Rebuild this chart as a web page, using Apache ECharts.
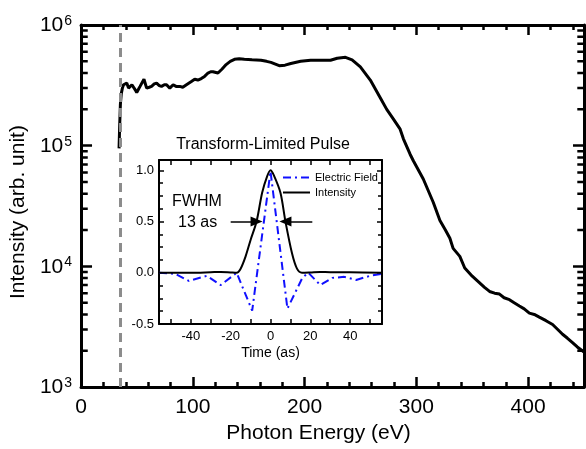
<!DOCTYPE html>
<html>
<head>
<meta charset="utf-8">
<script src="https://cdn.jsdelivr.net/npm/echarts@6/dist/echarts.min.js"></script>
<style>
  html, body { margin: 0; padding: 0; background: #fff; }
  #chart { width: 586px; height: 449px; }
</style>
</head>
<body>
<div id="chart"></div>
<script>
// main spectrum (photon energy in eV, intensity in arb. unit)
const energy = [34, 34.6, 35.2, 36, 37, 38, 39.5, 40.9, 42.5, 43.9, 45.5, 46.9, 48.5, 49.8, 51.5, 52.8, 54.5, 56.3, 58.7,
  61, 63.1, 65.5, 67.6, 70, 72, 74.5, 76.5, 79.4, 82.4, 85, 88.3, 91, 94.3, 98.7, 101.7, 104.5, 107.6, 110.5, 113.6, 116,
  118, 122.5, 126, 129.8, 133.5, 137.3, 141.5, 146.1, 153, 161, 166, 169.9, 177.3, 182.5, 187.7, 196.5, 205.4, 214.3,
  223.2, 229.2, 236.6, 242.5, 249.9, 258.8, 267.7, 273.5, 279.5, 285.5, 288.4, 294.4, 297.3, 306.2, 315.1, 321.1, 326,
  330, 332.9, 338.9, 343.3, 350, 356.6, 361, 365.5, 370, 374.4, 378.5, 383.3, 387.5, 392.2, 396.5, 401.1, 405.5, 410,
  416, 421.9, 426.5, 430.8, 435, 439.7, 444, 448.5, 450];
const intensity = [9.5e4, 1.5e5, 2.2e5, 2.7e5, 3.0e5, 3.2e5, 3.1e5, 3.3e5, 3.0e5, 2.9e5, 3.2e5, 3.1e5, 2.9e5, 2.75e5, 2.95e5, 3.1e5,
  3.2e5, 3.55e5, 3.0e5, 3.05e5, 3.1e5, 3.25e5, 3.3e5, 3.15e5, 3.1e5, 3.2e5, 3.2e5, 3.0e5, 3.2e5, 3.1e5, 3.1e5, 3.05e5,
  3.2e5, 3.4e5, 3.55e5, 3.5e5, 3.6e5, 3.75e5, 4.0e5, 4.1e5, 4.1e5, 4.0e5, 4.3e5, 4.7e5, 5.0e5, 5.2e5, 5.25e5, 5.2e5,
  5.15e5, 5.1e5, 5.0e5, 4.9e5, 4.6e5, 4.65e5, 4.8e5, 5.0e5, 5.1e5, 5.1e5, 5.1e5, 5.3e5, 5.4e5, 5.15e5, 4.5e5, 3.5e5,
  2.5e5, 2.0e5, 1.66e5, 1.37e5, 1.14e5, 8.5e4, 7.5e4, 5.3e4, 3.4e4, 2.4e4, 2.0e4, 1.71e4, 1.41e4, 1.21e4, 9.7e3,
  8.3e3, 7.3e3, 6.7e3, 6.2e3, 6.0e3, 5.9e3, 5.5e3, 5.3e3, 5.0e3, 4.7e3, 4.45e3, 4.1e3, 4.0e3, 3.8e3, 3.55e3, 3.3e3,
  3.0e3, 2.74e3, 2.55e3, 2.34e3, 2.15e3, 2.0e3, 1.95e3];
const cutoffEnergy = 35.5;
const minorLogTicks = [2e3, 3e3, 4e3, 5e3, 6e3, 7e3, 8e3, 9e3, 2e4, 3e4, 4e4, 5e4, 6e4, 7e4, 8e4, 9e4,
  2e5, 3e5, 4e5, 5e5, 6e5, 7e5, 8e5, 9e5];

// inset: transform-limited pulse (time in as)
const fieldTime = [-56, -48, -41, -32, -25, -17, -9.2, 0, 8.5, 16, 19, 25, 31, 37, 43, 50, 56];
const fieldValue = [0, -0.01, -0.08, -0.03, -0.12, 0, -0.37, 0.99, -0.35, -0.05, 0, -0.12, -0.05, -0.04, -0.07, -0.03, -0.01];
const pulseTime = [-56, -40, -30, -25, -20, -17, -15, -12.5, -10, -7, -4.2, -1.7, 0, 1.7, 5, 7.5, 10.8, 13.3, 15.8,
  20, 25, 30, 40, 56];
const pulseValue = [0, 0, 0.005, 0.008, 0.003, 0, 0.04, 0.16, 0.32, 0.5, 0.78, 0.94, 1.0, 0.95, 0.78, 0.5, 0.19, 0.04, 0,
  0.003, 0.008, 0.005, 0.005, 0];
const insetTimeLabels = [-40, -20, 0, 20, 40];
const insetTimeTicks = [-50, -40, -30, -20, -10, 0, 10, 20, 30, 40, 50];

const FONT = 'Liberation Sans';
const BLUE = '#1010ff';
const chart = echarts.init(document.getElementById('chart'), null, { renderer: 'canvas' });

const zip = (xs, ys) => xs.map((x, i) => [x, ys[i]]);

const mainX = (pos, labels) => ({
  type: 'value', gridIndex: 0, position: pos, min: 0, max: 450, interval: 100,
  axisLine: { show: true, onZero: false, lineStyle: { color: '#000', width: 3 } },
  axisTick: { show: true, inside: true, length: 10, lineStyle: { color: '#000', width: 2.5 } },
  minorTick: { show: true, splitNumber: 5, length: 5, lineStyle: { color: '#000', width: 2.5 } },
  axisLabel: { show: labels, color: '#000', fontSize: 21, fontFamily: FONT, margin: 10, showMaxLabel: false },
  splitLine: { show: false },
  name: labels ? 'Photon Energy (eV)' : '',
  nameLocation: 'middle', nameGap: 34,
  nameTextStyle: { color: '#000', fontSize: 21, fontFamily: FONT, padding: [0, 28, 0, 0] }
});

const mainY = (pos, labels) => ({
  type: 'log', logBase: 10, gridIndex: 0, position: pos, min: 1000, max: 1000000,
  axisLine: { show: true, onZero: false, lineStyle: { color: '#000', width: 3 } },
  axisTick: { show: true, inside: true, length: 11, lineStyle: { color: '#000', width: 2.5 } },
  axisLabel: {
    show: labels, margin: 9,
    formatter: v => '{b|10}{s|' + Math.round(Math.log10(v)) + '}',
    rich: {
      b: { fontSize: 21, fontFamily: FONT, color: '#000', lineHeight: 22, verticalAlign: 'bottom' },
      s: { fontSize: 14, fontFamily: FONT, color: '#000', lineHeight: 14, verticalAlign: 'top', padding: [0, 0, 0, 1] }
    }
  },
  splitLine: { show: false },
  name: labels ? 'Intensity (arb. unit)' : '',
  nameLocation: 'middle', nameGap: 50,
  nameTextStyle: { color: '#000', fontSize: 21, fontFamily: FONT, padding: [0, 12, 0, 0] }
});

const insetX = (pos, labels) => ({
  type: 'value', gridIndex: 1, position: pos, min: -56, max: 56,
  axisLine: { show: true, onZero: false, lineStyle: { color: '#000', width: 2 } },
  axisTick: { show: true, inside: true, length: 5, customValues: insetTimeTicks, lineStyle: { color: '#000', width: 1.5 } },
  axisLabel: { show: labels, customValues: insetTimeLabels, color: '#000', fontSize: 13, fontFamily: FONT, margin: 6 },
  splitLine: { show: false },
  name: labels ? 'Time (as)' : '',
  nameLocation: 'middle', nameGap: 22,
  nameTextStyle: { color: '#000', fontSize: 14, fontFamily: FONT }
});

const insetY = (pos, labels) => ({
  type: 'value', gridIndex: 1, position: pos, min: -0.5, max: 1.1, interval: 0.5,
  axisLine: { show: true, onZero: false, lineStyle: { color: '#000', width: 2 } },
  axisTick: { show: true, inside: true, length: 5, lineStyle: { color: '#000', width: 1.5 } },
  minorTick: { show: true, splitNumber: 4, length: 4, lineStyle: { color: '#000', width: 1.5 } },
  axisLabel: {
    show: labels, showMaxLabel: false, color: '#000', fontSize: 13, fontFamily: FONT, margin: 5,
    formatter: v => v.toFixed(1)
  },
  splitLine: { show: false }
});

// log minor ticks on the left and right frame, drawn as short line pieces through the axis scale
const tickLen = 6; // eV
const minorTickData = [];
minorLogTicks.forEach(v => {
  minorTickData.push([0, v], [tickLen, v], ['-', '-']);
  minorTickData.push([450 - tickLen, v], [450, v], ['-', '-']);
});

const option = {
  animation: false,
  backgroundColor: '#fff',
  textStyle: { fontFamily: FONT },
  title: {
    text: 'Transform-Limited Pulse', left: 258, top: 132, textAlign: 'center',
    textStyle: { fontSize: 16, fontWeight: 'normal', color: '#000', fontFamily: FONT }
  },
  legend: {
    orient: 'vertical', left: 277, top: 167, itemWidth: 27, itemHeight: 12, itemGap: 4,
    itemStyle: { opacity: 0 },
    textStyle: { fontSize: 11, color: '#000', fontFamily: FONT },
    data: [
      { name: 'Electric Field', lineStyle: { color: BLUE, width: 2, type: [8, 4, 2, 4] } },
      { name: 'Intensity', lineStyle: { color: '#000', width: 2, type: 'solid' } }
    ]
  },
  graphic: [
    { type: 'text', left: 172, top: 194, style: { text: 'FWHM', fontSize: 16, fontFamily: FONT, fill: '#000' } },
    { type: 'text', left: 178, top: 215, style: { text: '13 as', fontSize: 16, fontFamily: FONT, fill: '#000' } }
  ],
  grid: [
    { left: 79, top: 25, right: 2, bottom: 59 },
    { left: 159, top: 160, width: 223, height: 164 }
  ],
  xAxis: [mainX('bottom', true), mainX('top', false), insetX('bottom', true), insetX('top', false)],
  yAxis: [mainY('left', true), mainY('right', false), insetY('left', true), insetY('right', false)],
  series: [
    {
      name: 'Spectrum', type: 'line', xAxisIndex: 0, yAxisIndex: 0,
      data: zip(energy, intensity), symbol: 'none',
      lineStyle: { color: '#000', width: 3 },
      markLine: {
        silent: true, symbol: 'none', label: { show: false },
        lineStyle: { color: '#8c8c8c', width: 3, type: [9, 6] },
        data: [{ xAxis: cutoffEnergy }]
      }
    },
    {
      name: 'minor ticks', type: 'line', xAxisIndex: 0, yAxisIndex: 0, silent: true,
      data: minorTickData, symbol: 'none', connectNulls: false,
      lineStyle: { color: '#000', width: 2.5 }
    },
    {
      name: 'Electric Field', type: 'line', xAxisIndex: 2, yAxisIndex: 2,
      data: zip(fieldTime, fieldValue), symbol: 'none',
      lineStyle: { color: BLUE, width: 2, type: [8, 4, 2, 4] },
      itemStyle: { color: BLUE }
    },
    {
      name: 'Intensity', type: 'line', xAxisIndex: 2, yAxisIndex: 2,
      data: zip(pulseTime, pulseValue), symbol: 'none', smooth: 0.3,
      lineStyle: { color: '#000', width: 2 },
      itemStyle: { color: '#000' },
      markLine: {
        silent: true, symbol: ['none', 'triangle'], symbolSize: [10, 12], label: { show: false },
        lineStyle: { color: '#000', width: 1.5, type: 'solid' },
        data: [
          [{ coord: [-20, 0.5] }, { coord: [-7, 0.5] }],
          [{ coord: [21, 0.5] }, { coord: [7.5, 0.5] }]
        ]
      }
    }
  ]
};

chart.setOption(option);
</script>
</body>
</html>
